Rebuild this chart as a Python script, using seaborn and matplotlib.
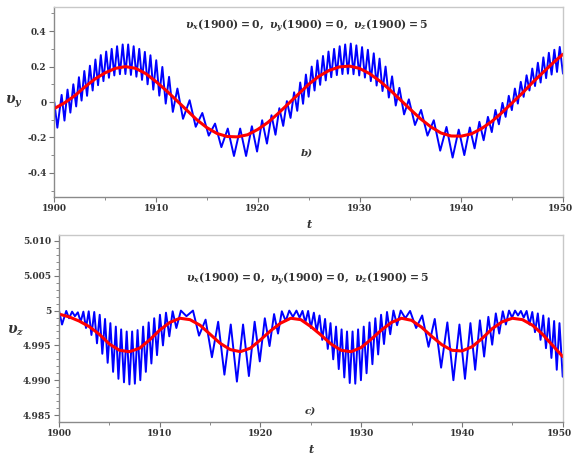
import numpy as np
import pandas as pd
import matplotlib
matplotlib.use('Agg')
import matplotlib.pyplot as plt
import matplotlib.transforms as mtransforms
import seaborn as sns
from matplotlib.ticker import FixedLocator, FixedFormatter, MultipleLocator

# ---------------- data ----------------
years = list(range(1900, 1951))

# smooth (red) curves, one value per year
red_vy = [-0.037, -0.005, 0.035, 0.085, 0.130, 0.165, 0.190, 0.200, 0.190, 0.160,
          0.115, 0.065, 0.010, -0.045, -0.100, -0.145, -0.178, -0.195, -0.197, -0.185,
          -0.155, -0.115, -0.065, -0.010, 0.045, 0.100, 0.145, 0.178, 0.198, 0.203,
          0.190, 0.160, 0.118, 0.068, 0.013, -0.042, -0.095, -0.140, -0.175, -0.192,
          -0.193, -0.180, -0.150, -0.110, -0.060, -0.005, 0.050, 0.110, 0.165, 0.220,
          0.270]
red_vz = [4.9995, 4.9991, 4.9985, 4.9977, 4.9966, 4.9952, 4.9943, 4.9941, 4.9946, 4.9958,
          4.9972, 4.9983, 4.9989, 4.9987, 4.9979, 4.9966, 4.9953, 4.9944, 4.9941, 4.9946,
          4.9958, 4.9971, 4.9982, 4.9989, 4.9987, 4.9977, 4.9965, 4.9952, 4.9943, 4.9941,
          4.9947, 4.9959, 4.9972, 4.9983, 4.9989, 4.9986, 4.9976, 4.9963, 4.9951, 4.9943,
          4.9942, 4.9948, 4.9960, 4.9974, 4.9984, 4.9989, 4.9987, 4.9979, 4.9966, 4.9950,
          4.9934]

# oscillating (blue) curves: start point, then local maxima and minima
start_t = 1900.0
start_vy = 0.0
start_vz = 5.0

peak_t = [1900.72, 1901.30, 1901.87, 1902.42, 1902.95, 1903.50, 1904.04, 1904.57, 1905.10, 1905.64,
          1906.17, 1906.72, 1907.26, 1907.80, 1908.35, 1908.90, 1909.45, 1910.02, 1910.62, 1911.28,
          1912.10,
          1913.30, 1914.55, 1915.80, 1917.05, 1918.27, 1919.42, 1920.43, 1921.35, 1922.12, 1922.86,
          1923.57, 1924.17, 1924.73,
          1925.30, 1925.86, 1926.41, 1926.95, 1927.50, 1928.05, 1928.59, 1929.14, 1929.69, 1930.25,
          1930.82, 1931.40, 1931.97, 1932.56, 1933.20, 1933.92, 1934.85, 1936.05, 1937.30,
          1938.55, 1939.75, 1940.84, 1941.78, 1942.62, 1943.36, 1944.05, 1944.67, 1945.27, 1945.85,
          1946.42, 1946.98, 1947.53, 1948.07, 1948.61, 1949.15, 1949.68]
trough_t = [1900.30, 1901.00, 1901.58, 1902.15, 1902.68, 1903.22, 1903.77, 1904.30, 1904.83, 1905.37,
            1905.90, 1906.45, 1906.99, 1907.53, 1908.07, 1908.62, 1909.17, 1909.73, 1910.32, 1910.95,
            1911.65,
            1912.65, 1913.90, 1915.18, 1916.42, 1917.66, 1918.85, 1919.93, 1920.90, 1921.74, 1922.50,
            1923.22, 1923.88, 1924.45, 1925.00,
            1925.58, 1926.13, 1926.68, 1927.22, 1927.77, 1928.32, 1928.86, 1929.41, 1929.97, 1930.53,
            1931.11, 1931.68, 1932.26, 1932.88, 1933.56, 1934.38, 1935.45, 1936.68,
            1937.93, 1939.15, 1940.30, 1941.31, 1942.20, 1943.00, 1943.70, 1944.36, 1944.97, 1945.56,
            1946.13, 1946.70, 1947.25, 1947.80, 1948.34, 1948.88, 1949.41, 1950.00]

vy_peaks = [0.040, 0.070, 0.100, 0.140, 0.175, 0.205, 0.240, 0.265, 0.285, 0.300,
            0.315, 0.325, 0.325, 0.315, 0.300, 0.283, 0.264, 0.236, 0.198, 0.142,
            0.076,
            0.010, -0.062, -0.122, -0.150, -0.150, -0.137, -0.103, -0.075, -0.035, 0.005,
            0.055, 0.110, 0.155,
            0.200, 0.235, 0.260, 0.285, 0.300, 0.315, 0.325, 0.330, 0.320, 0.310,
            0.295, 0.275, 0.245, 0.200, 0.145, 0.080, 0.015, -0.045, -0.103,
            -0.141, -0.156, -0.144, -0.112, -0.084, -0.045, -0.005, 0.035, 0.076, 0.114,
            0.151, 0.189, 0.222, 0.252, 0.278, 0.295, 0.311]
vy_troughs = [-0.145, -0.105, -0.060, -0.025, 0.008, 0.035, 0.065, 0.095, 0.118, 0.137,
              0.150, 0.157, 0.158, 0.153, 0.143, 0.125, 0.100, 0.070, 0.036, -0.009,
              -0.056,
              -0.095, -0.140, -0.190, -0.255, -0.305, -0.305, -0.280, -0.235, -0.185, -0.135,
              -0.090, -0.050, -0.010, 0.030,
              0.065, 0.097, 0.122, 0.140, 0.152, 0.158, 0.160, 0.157, 0.150, 0.138,
              0.118, 0.093, 0.062, 0.025, -0.020, -0.070, -0.130, -0.190,
              -0.275, -0.314, -0.300, -0.262, -0.216, -0.170, -0.126, -0.084, -0.046, -0.009,
              0.029, 0.065, 0.090, 0.110, 0.135, 0.155, 0.170, 0.160]

vz_peaks = [4.99995, 4.99985, 4.99975, 4.99985, 4.9999, 4.9998, 4.9994, 4.9988, 4.9982, 4.9977,
            4.9973, 4.9970, 4.9970, 4.9972, 4.9977, 4.9983, 4.9989, 4.9994, 4.9997, 4.9999,
            5.0000,
            5.0000, 4.9987, 4.9984, 4.9980, 4.9980, 4.9984, 4.9989, 4.9995, 4.9999, 5.0000,
            5.0000, 4.99995, 4.99995,
            4.9997, 4.9993, 4.9988, 4.9982, 4.9977, 4.9973, 4.9970, 4.9970, 4.9973, 4.9977,
            4.9983, 4.9989, 4.9994, 4.9998, 5.0000, 5.0000, 4.99995, 4.9993, 4.9988,
            4.9983, 4.9980, 4.9982, 4.9986, 4.9991, 4.9996, 4.9999, 5.0000, 5.0000, 4.99995,
            4.99995, 4.9998, 4.9996, 4.9993, 4.9989, 4.9985, 4.9982]
vz_troughs = [4.9980, 4.9989, 4.9992, 4.9984, 4.9975, 4.9965, 4.9953, 4.9938, 4.9925, 4.9912,
              4.9902, 4.9897, 4.9894, 4.9895, 4.9900, 4.9912, 4.9924, 4.9936, 4.9950, 4.9963,
              4.9975,
              4.9992, 4.9964, 4.9933, 4.9908, 4.9898, 4.9906, 4.9927, 4.9949, 4.9967, 4.9985,
              4.9991, 4.9990, 4.9983, 4.9975,
              4.9970, 4.9958, 4.9945, 4.9930, 4.9916, 4.9904, 4.9896, 4.9895, 4.9900, 4.9910,
              4.9923, 4.9937, 4.9952, 4.9966, 4.9979, 4.9989, 4.9975, 4.9948,
              4.9918, 4.9900, 4.9902, 4.9915, 4.9934, 4.9951, 4.9967, 4.9980, 4.9990, 4.9993,
              4.9990, 4.9980, 4.9969, 4.9958, 4.9946, 4.9932, 4.9915, 4.9905]

top_yticks = [-0.4, -0.2, 0, 0.2, 0.4]
top_yticklabels = ['-0.4', '-0.2', '0', '0.2', '0.4']
bot_yticks = [4.985, 4.990, 4.995, 5.0, 5.005, 5.010]
bot_yticklabels = ['4.985', '4.990', '4.995', '5', '5.005', '5.010']
xticks = [1900, 1910, 1920, 1930, 1940, 1950]
xticklabels = ['1900', '1910', '1920', '1930', '1940', '1950']

note_text = r'$\upsilon_x(1900) = 0,\ \upsilon_y(1900) = 0,\ \upsilon_z(1900) = 5$'

# ---------------- build tables ----------------
def blue_frame(start_v, peaks, troughs):
    df = pd.DataFrame({'t': [start_t] + peak_t + trough_t,
                       'v': [start_v] + peaks + troughs})
    return df.sort_values('t').reset_index(drop=True)

blue_y = blue_frame(start_vy, vy_peaks, vy_troughs)
blue_z = blue_frame(start_vz, vz_peaks, vz_troughs)
red_y = pd.DataFrame({'t': years, 'v': red_vy})
red_z = pd.DataFrame({'t': years, 'v': red_vz})

# ---------------- style ----------------
sns.set_theme(style='white')
plt.rcParams['font.family'] = ['DejaVu Serif']
plt.rcParams['mathtext.fontset'] = 'custom'
plt.rcParams['mathtext.rm'] = 'DejaVu Serif:bold'
plt.rcParams['mathtext.it'] = 'DejaVu Serif:italic:bold'
plt.rcParams['mathtext.bf'] = 'DejaVu Serif:bold'

W, H = 574, 455
fig = plt.figure(figsize=(W / 100, H / 100), dpi=100)
fig.patch.set_facecolor('white')

def px_axes(x0, y0, x1, y1):
    return fig.add_axes([x0 / W, 1 - y1 / H, (x1 - x0) / W, (y1 - y0) / H])

ax1 = px_axes(54.3, 7.3, 563.0, 196.7)
ax2 = px_axes(59.0, 235.0, 562.7, 421.7)

tick_col = '#333333'
for ax in (ax1, ax2):
    ax.set_facecolor('white')
    for side in ('top', 'right'):
        ax.spines[side].set_color('#c8c8c8')
        ax.spines[side].set_linewidth(1.0)
    for side in ('left', 'bottom'):
        ax.spines[side].set_color('#8a8a8a')
        ax.spines[side].set_linewidth(1.0)
    ax.tick_params(axis='both', which='major', direction='out', length=3.5, width=0.8,
                   color='#777777', labelsize=6.5, labelcolor=tick_col, pad=2)
    ax.tick_params(axis='both', which='minor', direction='out', length=2, width=0.6,
                   color='#777777')
    ax.tick_params(left=True, bottom=True, which='both')
    ax.xaxis.set_major_locator(FixedLocator(xticks))
    ax.xaxis.set_major_formatter(FixedFormatter(xticklabels))
    ax.xaxis.set_minor_locator(MultipleLocator(5))
    ax.set_xlim(1900, 1950)

# ---------------- top panel ----------------
sns.lineplot(data=blue_y, x='t', y='v', ax=ax1, color='#0000ff', linewidth=1.4,
             estimator=None, sort=False)
sns.lineplot(data=red_y, x='t', y='v', ax=ax1, color='#ff0000', linewidth=2.2,
             estimator=None, sort=False)
ax1.set_ylim(-0.535, 0.535)
ax1.yaxis.set_major_locator(FixedLocator(top_yticks))
ax1.yaxis.set_major_formatter(FixedFormatter(top_yticklabels))
ax1.yaxis.set_minor_locator(MultipleLocator(0.1))

# ---------------- bottom panel ----------------
sns.lineplot(data=blue_z, x='t', y='v', ax=ax2, color='#0000ff', linewidth=1.4,
             estimator=None, sort=False)
sns.lineplot(data=red_z, x='t', y='v', ax=ax2, color='#ff0000', linewidth=2.2,
             estimator=None, sort=False)
ax2.set_ylim(4.98404, 5.01086)
ax2.yaxis.set_major_locator(FixedLocator(bot_yticks))
ax2.yaxis.set_major_formatter(FixedFormatter(bot_yticklabels))
ax2.yaxis.set_minor_locator(MultipleLocator(0.001))

shift_left = mtransforms.ScaledTranslation(-3 / 100, 0, fig.dpi_scale_trans)
for ax in (ax1, ax2):
    xl = ax.get_xticklabels()
    for lab in xl + ax.get_yticklabels():
        lab.set_fontweight('bold')
        lab.set_fontsize(6.5)
    xl[-1].set_transform(xl[-1].get_transform() + shift_left)
    for ln in ax.get_lines():
        ln.set_solid_joinstyle('round')
    ax.set_xlabel('t', fontsize=8, fontweight='bold', fontstyle='italic', color=tick_col,
                  labelpad=4)

ax1.set_ylabel(r'$\upsilon_y$', rotation=0, fontsize=10, color=tick_col)
ax1.yaxis.set_label_coords(-0.08, 0.46)
ax2.set_ylabel(r'$\upsilon_z$', rotation=0, fontsize=10, color=tick_col)
ax2.yaxis.set_label_coords(-0.087, 0.45)

ax1.text(0.496, 0.9, note_text, transform=ax1.transAxes, ha='center', va='center',
         fontsize=7.8, color=tick_col)
ax2.text(0.493, 0.765, note_text, transform=ax2.transAxes, ha='center', va='center',
         fontsize=7.8, color=tick_col)
ax1.text(0.496, 0.231, 'b)', transform=ax1.transAxes, ha='center', va='center',
         fontsize=7.5, fontweight='bold', fontstyle='italic', color=tick_col)
ax2.text(0.498, 0.056, 'c)', transform=ax2.transAxes, ha='center', va='center',
         fontsize=7.5, fontweight='bold', fontstyle='italic', color=tick_col)

fig.savefig('out.png', dpi=100, facecolor='white')
